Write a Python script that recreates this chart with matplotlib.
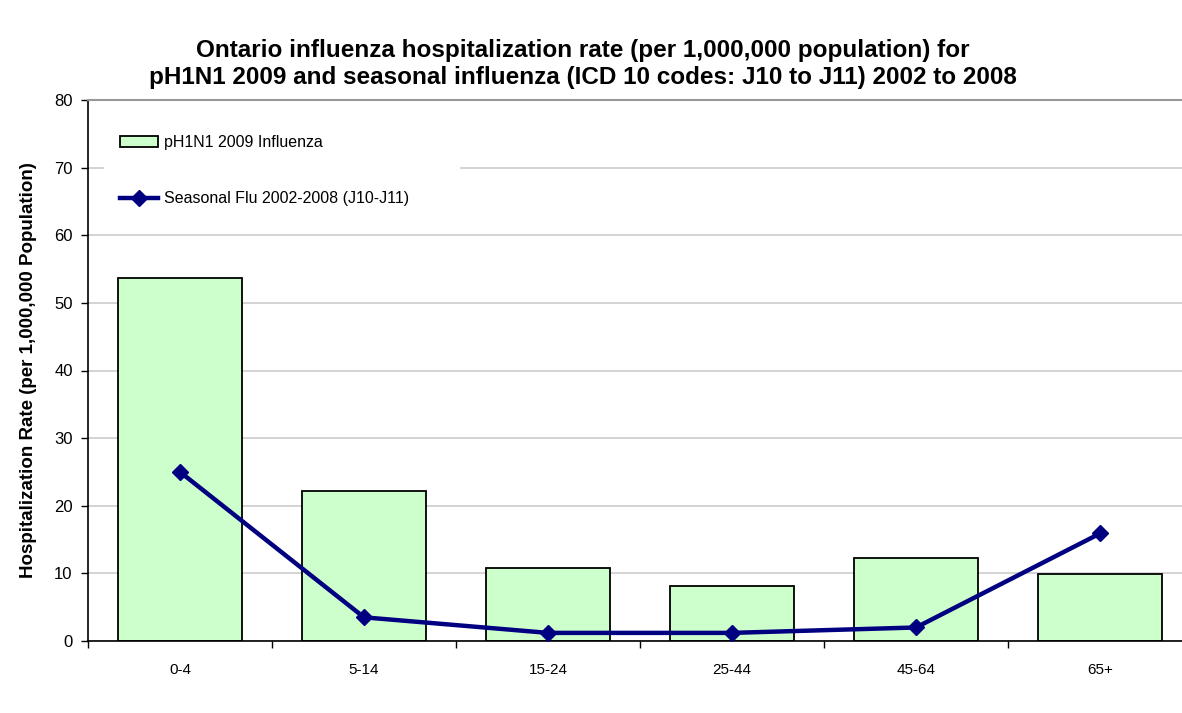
import matplotlib.pyplot as plt
import numpy as np

plt.rcParams['font.family'] = ['Liberation Sans', 'DejaVu Sans']

age_groups = ['0-4', '5-14', '15-24', '25-44', '45-64', '65+']
ph1n1_2009 = [53.7, 22.2, 10.8, 8.1, 12.2, 9.9]
seasonal_2002_2008 = [25.0, 3.5, 1.2, 1.2, 2.0, 15.9]

fig = plt.figure(figsize=(11.82, 7.13), dpi=100)
ax = fig.add_axes([88 / 1182, 72 / 713, 1104 / 1182, 541 / 713])

x = np.arange(len(age_groups))
bars = ax.bar(x, ph1n1_2009, width=0.67, color='#ccffcc', edgecolor='black',
              linewidth=1.3, label='pH1N1 2009 Influenza', zorder=2)
line, = ax.plot(x, seasonal_2002_2008, color='#000080', linewidth=3.2, marker='D',
                markersize=8, label='Seasonal Flu 2002-2008 (J10-J11)', zorder=3)

ax.set_xlim(-0.5, len(age_groups) - 0.5)
ax.set_ylim(0, 80)
ax.set_yticks(np.arange(0, 81, 10))
ax.set_xticks(x)
ax.set_xticklabels(age_groups, fontsize=11)
ax.tick_params(axis='x', length=0, pad=16)
ax.set_xticks(np.arange(-0.5, len(age_groups) - 0.4, 1), minor=True)
ax.tick_params(axis='x', which='minor', length=5, width=1, direction='out')
ax.tick_params(axis='y', length=5, width=1, direction='out', labelsize=12, pad=6)
ax.yaxis.grid(True, color='#cccccc', linewidth=1.2, zorder=0)
ax.set_axisbelow(True)

ax.spines['top'].set_color('#999999')
ax.spines['top'].set_linewidth(1.5)
ax.spines['right'].set_visible(False)
ax.spines['left'].set_linewidth(1.2)
ax.spines['bottom'].set_linewidth(1.2)

ax.set_ylabel('Hospitalization Rate (per 1,000,000 Population)', fontsize=13.5,
              fontweight='bold', labelpad=12)
ax.set_xlabel('Age Group', fontsize=11, fontweight='bold', labelpad=28)

leg = ax.legend([bars, line], [bars.get_label(), line.get_label()],
                loc='upper left', bbox_to_anchor=(0.0145, 0.965, 0.322, 0.0),
                mode='expand', frameon=True,
                fancybox=False, edgecolor='white', framealpha=1, fontsize=11.5,
                handlelength=2.4, handleheight=0.65, handletextpad=0.35,
                labelspacing=2.6, borderpad=1.0, borderaxespad=0)
leg.set_zorder(5)

fig.text(0.493, 0.945, 'Ontario influenza hospitalization rate (per 1,000,000 population) for\n'
         'pH1N1 2009 and seasonal influenza (ICD 10 codes: J10 to J11) 2002 to 2008',
         ha='center', va='top', fontsize=17.5, fontweight='bold', linespacing=1.2)

fig.savefig('out.png', dpi=100)
